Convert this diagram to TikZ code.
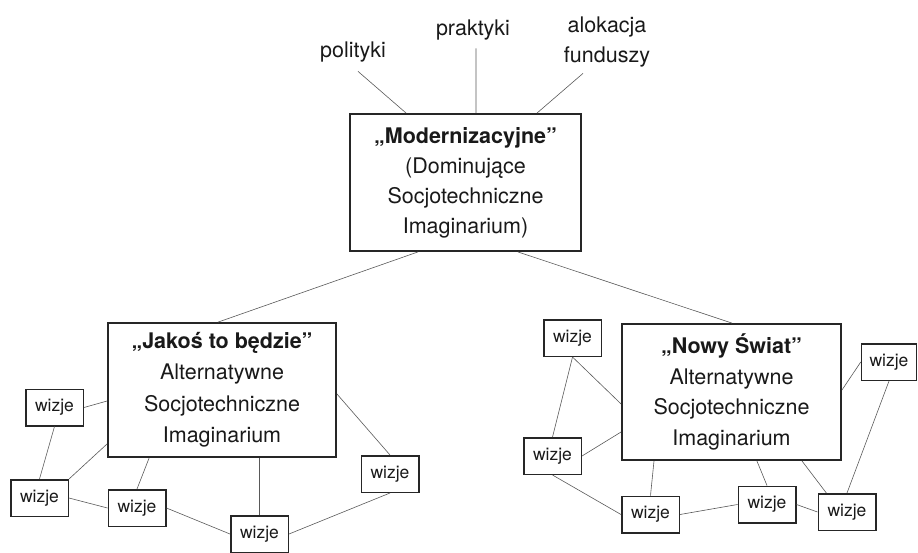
\documentclass[tikz,border=0pt]{standalone}
\usepackage{fontspec}
\setmainfont{TeX Gyre Heros}
\usetikzlibrary{calc}
\begin{document}
\begin{tikzpicture}[x=1pt,y=-1pt,
  bigbox/.style={draw=black!85, line width=1.8pt, inner sep=0pt, align=center, text=black!90, font=\fontsize{21.5}{30}\selectfont},
  wbox/.style={draw=black!85, line width=1.5pt, inner sep=0pt, minimum width=57.5pt, minimum height=36.5pt, text=black!90, font=\fontsize{17.5}{20}\selectfont},
  lbl/.style={inner sep=0pt, align=center, text=black!90, font=\fontsize{21.5}{30}\selectfont},
  conn/.style={draw=black!65, line width=0.6pt}]
\useasboundingbox (0,0) rectangle (918,552);

% top labels
\node[lbl] (P1) at (353,52) {polityki};
\node[lbl] (P2) at (473,30) {praktyki};
\node[lbl] (P3) at (607,42) {alokacja\\funduszy};

% main box
\node[bigbox, minimum width=231pt, minimum height=137pt] (M) at (465.5,182.5)
  {\textbf{„Modernizacyjne”}\\(Dominujące\\Socjotechniczne\\Imaginarium)};

% left box
\node[bigbox, minimum width=228pt, minimum height=134pt, font=\fontsize{21.5}{31.5}\selectfont] (L) at (222,390)
  {\textbf{„Jakoś to będzie”}\\Alternatywne\\Socjotechniczne\\Imaginarium};

% right box
\node[bigbox, minimum width=219pt, minimum height=136pt, font=\fontsize{21.5}{30.5}\selectfont] (N) at (731.5,392)
  {\textbf{„Nowy Świat”}\\Alternatywne\\Socjotechniczne\\Imaginarium};

% left wizje
\node[wbox] (W1) at (54.5,407.5) {wizje};
\node[wbox] (W2) at (39.5,498) {wizje};
\node[wbox] (W3) at (137,508) {wizje};
\node[wbox] (W4) at (259.5,534) {wizje};
\node[wbox] (W5) at (390,474) {wizje};

% right wizje
\node[wbox] (R1) at (572.5,338) {wizje};
\node[wbox] (R2) at (552.5,456) {wizje};
\node[wbox] (R3) at (650.5,514.5) {wizje};
\node[wbox] (R4) at (767,504.5) {wizje};
\node[wbox] (R5) at (847,512) {wizje};
\node[wbox, minimum width=55pt] (R6) at (889,362) {wizje};

% connectors: top labels to main box
\draw[conn] ([shift={(5,9)}]P1.south) -- ($(M.north west)!0.245!(M.north east)$);
\draw[conn] ([shift={(3,8)}]P2.south) -- ($(M.north west)!0.545!(M.north east)$);
\draw[conn] ([shift={(-24,6)}]P3.south) -- ($(M.north west)!0.807!(M.north east)$);

% main box to alternatives
\draw[conn] ($(M.south west)!0.296!(M.south east)$) -- ($(L.north west)!0.483!(L.north east)$);
\draw[conn] ($(M.south west)!0.725!(M.south east)$) -- ($(N.north west)!0.502!(N.north east)$);

% left network
\draw[conn] (W1.east) -- ($(L.north west)!0.581!(L.south west)$);
\draw[conn] (W1.south) -- (W2.north);
\draw[conn] (W2.north east) -- ($(L.north west)!0.897!(L.south west)$);
\draw[conn] (W2.east) -- (W3.west);
\draw[conn] (W3.north) -- ($(L.south west)!0.183!(L.south east)$);
\draw[conn] (W3.east) -- (W4.west);
\draw[conn] (W4.north) -- (W4.north |- L.south);
\draw[conn] (W4.east) -- (W5.south);
\draw[conn] (W5.north) -- ($(L.north east)!0.529!(L.south east)$);

% right network
\draw[conn] (R1.south) -- (R2.north);
\draw[conn] (R1.south) -- ($(N.north west)!0.587!(N.south west)$);
\draw[conn] (R2.east) -- ($(N.north west)!0.79!(N.south west)$);
\draw[conn] (R2.south) -- (R3.west);
\draw[conn] (R3.north) -- ($(N.south west)!0.149!(N.south east)$);
\draw[conn] (R3.east) -- (R4.west);
\draw[conn] (R4.north) -- ($(N.south west)!0.615!(N.south east)$);
\draw[conn] (R4.east) -- (R5.west);
\draw[conn] ($(R5.north west)!0.15!(R5.north east)$) -- ($(N.south west)!0.819!(N.south east)$);
\draw[conn] (R5.north) -- (R6.south);
\draw[conn] (R6.west) -- ($(N.north east)!0.486!(N.south east)$);
\end{tikzpicture}
\end{document}
